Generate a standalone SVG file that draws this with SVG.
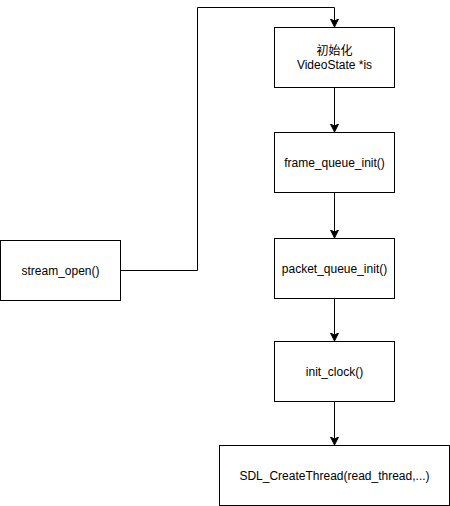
<svg xmlns="http://www.w3.org/2000/svg" width="450" height="506" viewBox="0 0 450 506">
<style>
.box{fill:#ffffff;stroke:#000000;stroke-width:1}
.lbl{font-family:"Liberation Sans","Noto Sans CJK SC",Arial,sans-serif;font-size:12px;fill:#000000;text-anchor:middle}
.edge{fill:none;stroke:#000000;stroke-width:1}
</style>
<defs>
<marker id="arr" viewBox="-8 -5 9 10" refX="0" refY="0" markerWidth="9" markerHeight="10" markerUnits="userSpaceOnUse" orient="auto">
<path d="M0,0 L-8,-4 L-6,0 L-8,4 Z" fill="#000000" stroke="#000000" stroke-width="1"/>
</marker>
</defs>
<rect width="450" height="506" fill="#ffffff"/>
<g id="connectors">
<path class="edge" d="M120.5,270.5 H197.5 V7.5 H334.5 V27" marker-end="url(#arr)"/>
<path class="edge" d="M334.5,87.5 V132" marker-end="url(#arr)"/>
<path class="edge" d="M334.5,192.5 V238" marker-end="url(#arr)"/>
<path class="edge" d="M334.5,298.5 V341" marker-end="url(#arr)"/>
<path class="edge" d="M334.5,401.5 V445" marker-end="url(#arr)"/>
</g>
<g id="node-stream-open">
<rect class="box" x="0.5" y="240.5" width="120" height="60"/>
<text class="lbl" x="60.5" y="274.5">stream_open()</text>
</g>
<g id="node-init-videostate">
<rect class="box" x="274.5" y="27.5" width="120" height="60"/>
<text class="lbl" x="334.5" y="54.5">初始化</text>
<text class="lbl" x="334.5" y="69">VideoState *is</text>
</g>
<g id="node-frame-queue-init">
<rect class="box" x="274.5" y="132.5" width="120" height="60"/>
<text class="lbl" x="334.5" y="166.5">frame_queue_init()</text>
</g>
<g id="node-packet-queue-init">
<rect class="box" x="274.5" y="238.5" width="120" height="60"/>
<text class="lbl" x="334.5" y="272.5">packet_queue_init()</text>
</g>
<g id="node-init-clock">
<rect class="box" x="274.5" y="341.5" width="120" height="60"/>
<text class="lbl" x="334.5" y="375.5">init_clock()</text>
</g>
<g id="node-sdl-createthread">
<rect class="box" x="219.5" y="445.5" width="230" height="60"/>
<text class="lbl" x="334.5" y="479.5">SDL_CreateThread(read_thread,...)</text>
</g>
</svg>
